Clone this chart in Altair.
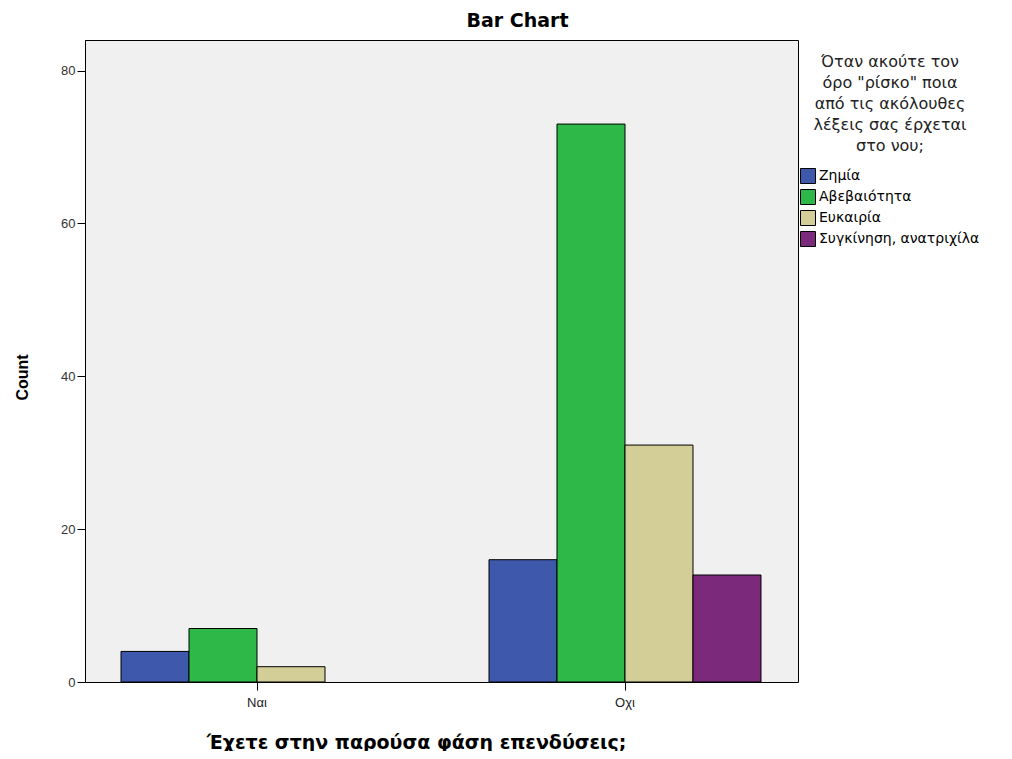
import altair as alt
import pandas as pd

groups = ["Ναι", "Ναι", "Ναι", "Οχι", "Οχι", "Οχι", "Οχι"]
answers = ["Ζημία", "Αβεβαιότητα", "Ευκαιρία",
           "Ζημία", "Αβεβαιότητα", "Ευκαιρία", "Συγκίνηση, ανατριχίλα"]
counts = [4, 7, 2, 16, 73, 31, 14]

answer_order = ["Ζημία", "Αβεβαιότητα", "Ευκαιρία", "Συγκίνηση, ανατριχίλα"]
answer_colors = ["#3e58ac", "#2eb848", "#d3ce97", "#7b2a7b"]
group_order = ["Ναι", "Οχι"]

df = pd.DataFrame({"group": groups, "answer": answers, "count": counts})

FONT = "Liberation Sans"
WIDE = "DejaVu Sans"

chart = alt.Chart(df).mark_bar(stroke="black", strokeWidth=1).encode(
    x=alt.X("group:N", sort=group_order,
            scale=alt.Scale(range=[-12, 724], paddingInner=0, paddingOuter=0),
            axis=alt.Axis(title="Έχετε στην παρούσα φάση επενδύσεις;",
                          labelAngle=0, labelFontSize=13, labelColor="#222",
                          labelFont=FONT, labelPadding=6, domain=False,
                          tickSize=8, tickColor="black",
                          titleFontSize=19, titleFont=WIDE, titleFontWeight="bold",
                          titleColor="black", titleX=331, titleY=60,
                          titleBaseline="middle", titleAlign="center")),
    xOffset=alt.XOffset("answer:N", sort=answer_order,
                        scale=alt.Scale(paddingInner=0, paddingOuter=0.706)),
    y=alt.Y("count:Q", scale=alt.Scale(domain=[0, 84], nice=False),
            axis=alt.Axis(title="Count", values=[0, 20, 40, 60, 80],
                          labelFontSize=13, labelColor="#333", labelFont=FONT,
                          tickSize=8, tickColor="black", domainColor="black",
                          grid=False, labelPadding=2,
                          titleFontSize=16, titleFont=FONT, titleFontWeight="bold",
                          titleColor="black", titleX=-63, titleY=337,
                          titleAngle=-90, titleBaseline="middle", titleAlign="center")),
    color=alt.Color("answer:N", sort=answer_order,
                    scale=alt.Scale(domain=answer_order, range=answer_colors),
                    legend=alt.Legend(
                        title=["Όταν ακούτε τον", "όρο \"ρίσκο\" ποια",
                               "από τις ακόλουθες", "λέξεις σας έρχεται",
                               "στο νου;"],
                        orient="none", legendX=715, legendY=14,
                        titleFontSize=16, titleFont=WIDE, titleFontWeight="normal",
                        titleColor="#222", titleAnchor="middle", titleAlign="center",
                        titleLineHeight=21, titlePadding=14,
                        labelFontSize=14, labelFont=WIDE, labelColor="black",
                        labelLimit=260,
                        symbolType="square", symbolSize=225,
                        symbolStrokeColor="black", symbolStrokeWidth=1,
                        symbolOpacity=1, rowPadding=1, labelOffset=3)),
).properties(
    width=713, height=642,
    title=alt.TitleParams("Bar Chart", fontSize=19, font=WIDE, fontWeight="bold",
                          color="black", anchor="middle", offset=9, dx=76),
    padding={"left": 77, "top": 32, "right": 190, "bottom": 69},
    autosize=alt.AutoSizeParams(type="none"),
    background="white",
).configure_view(
    fill="#f0f0f0", stroke="black", strokeWidth=1
)

chart.save("out.html", embed_options={"renderer": "svg", "actions": False})
